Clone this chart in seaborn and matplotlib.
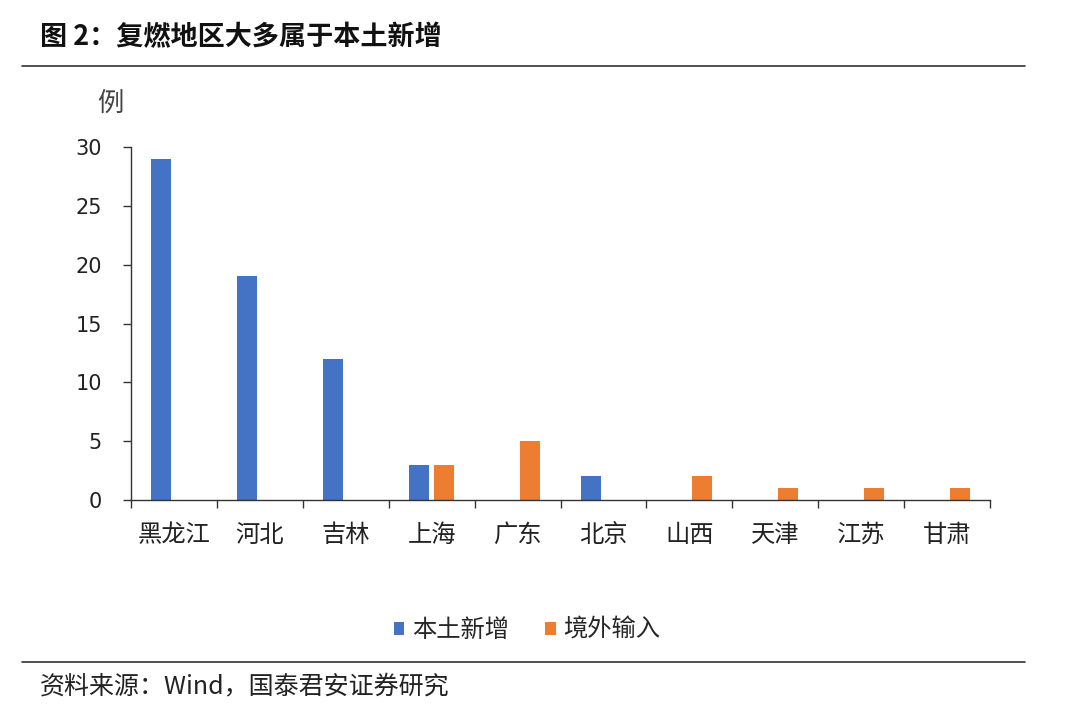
import numpy as np
import pandas as pd
import matplotlib
matplotlib.use("Agg")
import matplotlib.pyplot as plt
import seaborn as sns
from matplotlib.lines import Line2D
from matplotlib.patches import Patch

sns.set_theme(style="white")
plt.rcParams['font.family'] = ['Noto Sans CJK SC', 'DejaVu Sans']

regions = ["黑龙江", "河北", "吉林", "上海", "广东", "北京", "山西", "天津", "江苏", "甘肃"]
local_new = [29, 19, 12, 3, 0, 2, 0, 0, 0, 0]
imported = [0, 0, 0, 3, 5, 0, 2, 1, 1, 1]
series_names = ["本土新增", "境外输入"]
colors = ["#4472C4", "#ED7D31"]
yticks = [0, 5, 10, 15, 20, 25, 30]

df = pd.DataFrame({
    "地区": regions * 2,
    "值": local_new + imported,
    "类型": [series_names[0]] * len(regions) + [series_names[1]] * len(regions),
})

fig = plt.figure(figsize=(10.8, 7.05), dpi=100)
ax = fig.add_axes([131/1080, 1-500/705, (990-131)/1080, (500-147)/705])

sns.barplot(data=df, x="地区", y="值", hue="类型", palette=colors,
            width=0.59, gap=0.21, ax=ax, legend=False, saturation=1, linewidth=0)

ax.set_ylim(0, 30)
ax.set_xlim(-0.5, len(regions) - 0.5)
ax.set_yticks(yticks)
ax.set_xlabel("")
ax.set_ylabel("")
for s in ["top", "right"]:
    ax.spines[s].set_visible(False)
for s in ["left", "bottom"]:
    ax.spines[s].set_color("#333333")
    ax.spines[s].set_linewidth(1.0)

ax.set_xticks(np.arange(-0.5, len(regions), 1), minor=True)
ax.tick_params(axis="x", which="major", length=0, pad=16, labelsize=17.5, colors="#222222")
ax.tick_params(axis="x", which="minor", length=6, direction="out", width=1, color="#333333", bottom=True)
ax.tick_params(axis="y", which="major", length=6, direction="out", width=1, color="#333333",
               labelsize=15, pad=15, left=True, labelcolor="#222222")
for lab in ax.get_yticklabels():
    lab.set_family(["DejaVu Sans"])

fig.text(110/1080, 1-103/705, "例", fontsize=19, color="#444444", ha="center", va="center")

fig.text(40/1080, 1-37/705, "图 2：复燃地区大多属于本土新增", fontsize=19.5, fontweight="bold",
         color="#111111", ha="left", va="center")
fig.add_artist(Line2D([22/1080, 1025/1080], [1-66/705, 1-66/705], color="#333333", lw=1.2))
fig.add_artist(Line2D([22/1080, 1025/1080], [1-662/705, 1-662/705], color="#333333", lw=1.2))
fig.text(40/1080, 1-686/705, "资料来源：Wind，国泰君安证券研究", fontsize=18,
         family=["Noto Sans CJK SC", "DejaVu Sans"], color="#222222", ha="left", va="center")

handles = [Patch(facecolor=c, edgecolor="none") for c in colors]
fig.legend(handles, series_names, loc="center", bbox_to_anchor=(527/1080, 1-630/705), ncol=2,
           frameon=False, fontsize=17.5, handlelength=0.45, handleheight=0.45, handletextpad=0.3,
           columnspacing=1.5)

fig.savefig("out.png", dpi=100)
